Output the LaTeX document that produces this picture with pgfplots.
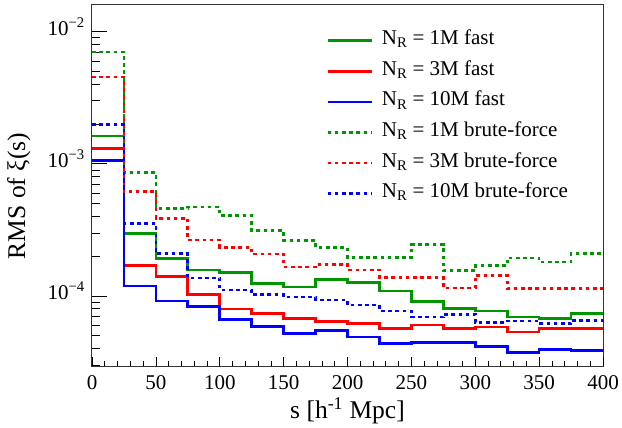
\documentclass[border=0pt]{standalone}
\usepackage{fontspec}
\setmainfont{Liberation Serif}
\usepackage{pgfplots}
\pgfplotsset{compat=1.18}
\usepackage{pgfplotstable}

\definecolor{rootgreen}{RGB}{0,150,0}
\definecolor{rootred}{RGB}{255,0,0}
\definecolor{rootblue}{RGB}{0,0,255}

% RMS of xi(s) per 25 h^-1 Mpc bin; left bin edges, last row closes the final bin
\pgfplotstableread{
s      fast1M    fast3M    fast10M   bf1M      bf3M      bf10M
0      1.62e-3   1.31e-3   1.06e-3   7.03e-3   4.54e-3   1.98e-3
25     2.96e-4   1.70e-4   1.19e-4   8.55e-4   6.16e-4   3.54e-4
50     1.91e-4   1.41e-4   9.18e-5   4.60e-4   3.87e-4   2.09e-4
75     1.57e-4   1.02e-4   8.31e-5   4.70e-4   2.65e-4   1.37e-4
100    1.51e-4   7.98e-5   6.67e-5   4.05e-4   2.33e-4   1.11e-4
125    1.24e-4   7.41e-5   5.86e-5   3.12e-4   2.08e-4   1.02e-4
150    1.17e-4   6.76e-5   5.19e-5   2.62e-4   1.66e-4   9.80e-5
175    1.33e-4   6.40e-5   5.50e-5   2.33e-4   1.72e-4   9.34e-5
200    1.26e-4   6.18e-5   4.90e-5   1.95e-4   1.57e-4   8.55e-5
225    1.09e-4   5.70e-5   4.35e-5   1.95e-4   1.38e-4   7.71e-5
250    9.07e-5   6.04e-5   4.43e-5   2.44e-4   1.38e-4   6.94e-5
275    8.07e-5   5.67e-5   4.46e-5   1.55e-4   1.15e-4   7.28e-5
300    7.71e-5   5.83e-5   4.16e-5   1.69e-4   1.43e-4   6.28e-5
325    6.94e-5   5.34e-5   3.75e-5   1.94e-4   1.14e-4   6.47e-5
350    6.72e-5   5.65e-5   3.92e-5   1.81e-4   1.14e-4   6.18e-5
375    7.41e-5   5.65e-5   3.85e-5   2.09e-4   1.14e-4   6.55e-5
400    7.41e-5   5.65e-5   3.85e-5   2.09e-4   1.14e-4   6.55e-5
}\rmsdata

\begin{document}
\fontsize{21}{24}\selectfont
\begin{tikzpicture}
\path[use as bounding box] (0,0) rectangle (622pt,428pt);

% main axis: frame, y ticks, histograms and legend
\begin{axis}[
  scale only axis, width=511pt, height=362pt,
  at={(92pt,62pt)}, anchor=south west,
  xmin=0, xmax=400, ymode=log, ymin=2.95e-5, ymax=1.62e-2,
  tick pos=left, tick align=inside,
  tick style={black, line width=0.7pt},
  axis line style={black!80, line width=1pt},
  xtick=\empty,
  ytick={1e-4,1e-3,1e-2},
  yticklabels={10\textsuperscript{−4},10\textsuperscript{−3},10\textsuperscript{−2}},
  minor ytick={3e-5,4e-5,5e-5,6e-5,7e-5,8e-5,9e-5,
               2e-4,3e-4,4e-4,5e-4,6e-4,7e-4,8e-4,9e-4,
               2e-3,3e-3,4e-3,5e-3,6e-3,7e-3,8e-3,9e-3},
  major tick length=15pt, minor tick length=8pt,
  yticklabel style={inner sep=0pt, anchor=base east, yshift=-3.4pt},
  yticklabel shift=7pt,
  ylabel={RMS of ξ(s)},
  ylabel style={at={(rel axis cs:-0.1311,0.4696)}, anchor=base,
    font=\fontsize{25.5}{28}\selectfont},
  legend cell align=left,
  legend image code/.code={\draw[#1] (0pt,0pt) -- (44pt,0pt);},
  legend style={draw=none, fill=none, inner sep=0pt,
    at={(rel axis cs:0.458,0.9268)}, anchor=north west,
    row sep=10.6pt, column sep=9pt,
    nodes={inner sep=0pt, text height=14pt, text depth=6pt}},
]
\addplot[rootgreen, const plot, line width=2.7pt] table[x=s, y=fast1M] {\rmsdata};
\addlegendentry{N\textsubscript{R} = 1M fast}
\addplot[rootred, const plot, line width=2.7pt] table[x=s, y=fast3M] {\rmsdata};
\addlegendentry{N\textsubscript{R} = 3M fast}
\addplot[rootblue, const plot, line width=2.7pt] table[x=s, y=fast10M] {\rmsdata};
\addlegendentry{N\textsubscript{R} = 10M fast}
\addplot[rootgreen, const plot, line width=2.7pt, dash pattern=on 3.6pt off 3.6pt] table[x=s, y=bf1M] {\rmsdata};
\addlegendentry{N\textsubscript{R} = 1M brute-force}
\addplot[rootred, const plot, line width=2.7pt, dash pattern=on 3.6pt off 3.6pt] table[x=s, y=bf3M] {\rmsdata};
\addlegendentry{N\textsubscript{R} = 3M brute-force}
\addplot[rootblue, const plot, line width=2.7pt, dash pattern=on 3.6pt off 3.6pt] table[x=s, y=bf10M] {\rmsdata};
\addlegendentry{N\textsubscript{R} = 10M brute-force}
\end{axis}

% overlay axis: x ticks with their own lengths, and the x labels
\begin{axis}[
  scale only axis, width=511pt, height=362pt,
  at={(92pt,62pt)}, anchor=south west,
  xmin=0, xmax=400, ymin=0, ymax=1,
  tick pos=left, tick align=inside,
  tick style={black, line width=0.7pt},
  axis line style={draw=none},
  ytick=\empty,
  xtick={0,50,...,400}, minor x tick num=4,
  major tick length=9pt, minor tick length=4.5pt,
  /pgf/number format/assume math mode=true,
  xticklabel style={inner sep=0pt},
  xticklabel shift=9pt,
  xlabel={s [h\textsuperscript{-1} Mpc]},
  xlabel style={at={(rel axis cs:0.5,-0.1464)}, anchor=base,
    font=\fontsize{25.5}{28}\selectfont},
]
\end{axis}
\end{tikzpicture}
\end{document}
